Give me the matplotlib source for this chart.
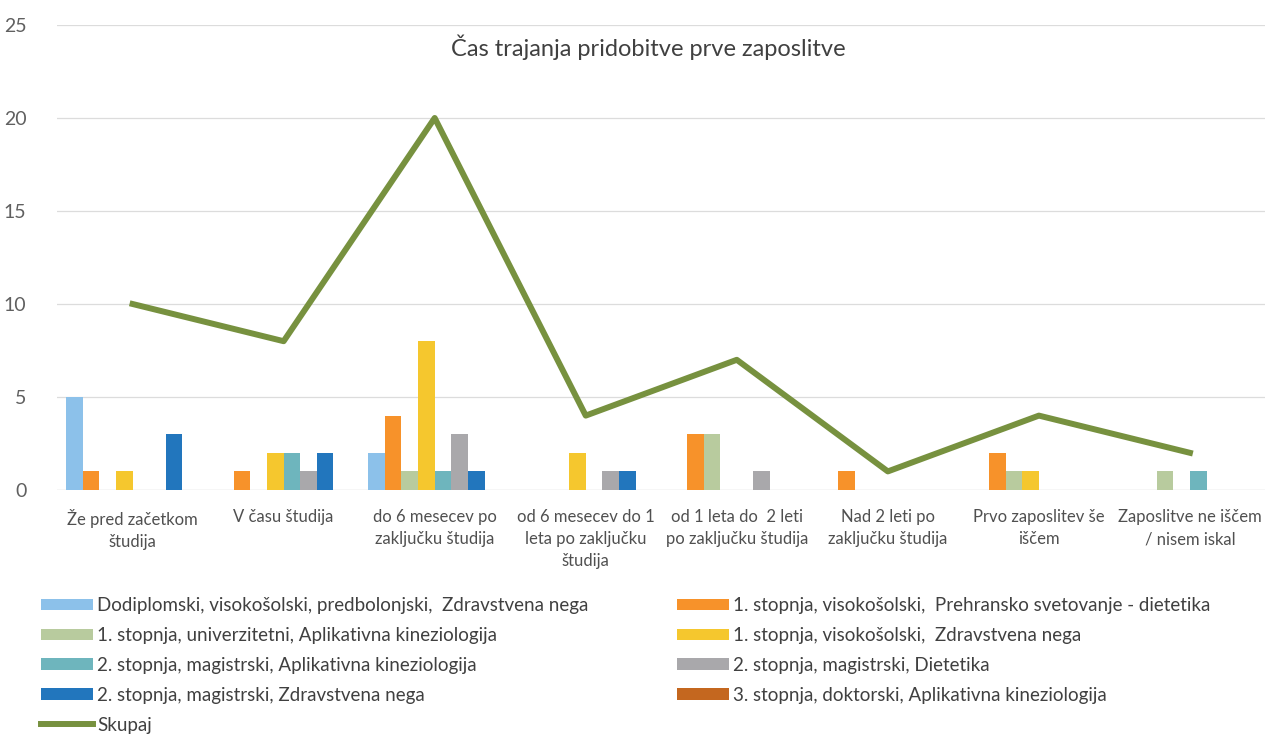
import matplotlib.pyplot as plt
import numpy as np

plt.rcParams['font.family'] = ['Lato', 'DejaVu Sans']

# kategorije (os x)
categories = ['Že pred začetkom\nštudija', 'V času študija', 'do 6 mesecev po\nzaključku študija',
              'od 6 mesecev do 1\nleta po zaključku\nštudija', 'od 1 leta do  2 leti\npo zaključku študija',
              'Nad 2 leti po\nzaključku študija', 'Prvo zaposlitev še\niščem', 'Zaposlitve ne iščem\n/ nisem iskal']

series_names = ['Dodiplomski, visokošolski, predbolonjski,  Zdravstvena nega',
                '1. stopnja, visokošolski,  Prehransko svetovanje - dietetika',
                '1. stopnja, univerzitetni, Aplikativna kineziologija',
                '1. stopnja, visokošolski,  Zdravstvena nega',
                '2. stopnja, magistrski, Aplikativna kineziologija',
                '2. stopnja, magistrski, Dietetika',
                '2. stopnja, magistrski, Zdravstvena nega',
                '3. stopnja, doktorski, Aplikativna kineziologija']

dodiplomski_zn = [5, 0, 2, 0, 0, 0, 0, 0]
st1_vis_prehrana = [1, 1, 4, 0, 3, 1, 2, 0]
st1_uni_kinez = [0, 0, 1, 0, 3, 0, 1, 1]
st1_vis_zn = [1, 2, 8, 2, 0, 0, 1, 0]
st2_mag_kinez = [0, 2, 1, 0, 0, 0, 0, 1]
st2_mag_dietetika = [0, 1, 3, 1, 1, 0, 0, 0]
st2_mag_zn = [3, 2, 1, 1, 0, 0, 0, 0]
st3_dok_kinez = [0, 0, 0, 0, 0, 0, 0, 0]
skupaj = [10, 8, 20, 4, 7, 1, 4, 2]

values = [dodiplomski_zn, st1_vis_prehrana, st1_uni_kinez, st1_vis_zn,
          st2_mag_kinez, st2_mag_dietetika, st2_mag_zn, st3_dok_kinez]
colors = ['#8cc1ea', '#f7922a', '#b8cb9e', '#f5c72e', '#6eb5bd', '#a9a8ab', '#2276bd', '#c4671f']

fig = plt.figure(figsize=(12.68, 7.34), dpi=100)
ax = fig.add_axes([0.045, 0.3324, 0.953, 0.6336])

x = np.arange(len(categories))
w = 0.11
handles = []
for i, (vals, c) in enumerate(zip(values, colors)):
    h = ax.bar(x + (i - 3.5) * w, vals, width=w, color=c, label=series_names[i], zorder=2)
    handles.append(h)
line, = ax.plot(x, skupaj, color='#77913f', lw=4.3, label='Skupaj', zorder=3)

ax.set_xlim(-0.5, len(categories) - 0.5)
ax.set_ylim(0, 25)
ax.set_yticks([0, 5, 10, 15, 20, 25])
ax.set_xticks(x)
ax.set_xticklabels(categories, fontsize=12, color='#505050', linespacing=1.45)
ax.tick_params(axis='y', labelsize=14, labelcolor='#606060', length=0, pad=22)
ax.tick_params(axis='x', length=0, pad=14)
ax.grid(axis='y', color='#dcdcdc', lw=0.9, zorder=0)
for s in ax.spines.values():
    s.set_visible(False)
ax.axhline(0, color='#dcdcdc', lw=0.9, zorder=1)

fig.text(648 / 1268, 1 - 47 / 734, 'Čas trajanja pridobitve prve zaposlitve',
         ha='center', va='center', fontsize=17, color='#404040')

# legenda: stolpec 1 = A, C, E, G, Skupaj ; stolpec 2 = B, D, F, H
order = [0, 2, 4, 6]
leg_h = [handles[i] for i in order] + [line] + [handles[i] for i in [1, 3, 5, 7]]
leg_l = [series_names[i] for i in order] + ['Skupaj'] + [series_names[i] for i in [1, 3, 5, 7]]
fig.legend(leg_h, leg_l, ncol=2, loc='upper left', bbox_to_anchor=(24 / 1268, 1 - 580 / 734),
           frameon=False, fontsize=13.5, handlelength=2.8, handleheight=0.55, handletextpad=0.2,
           labelspacing=0.69, columnspacing=4.7, labelcolor='#404040')

fig.savefig('out.png', dpi=100)
